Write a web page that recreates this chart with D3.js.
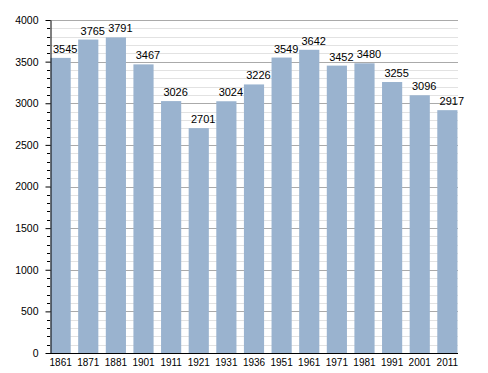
<!DOCTYPE html>
<html>
<head>
<meta charset="utf-8">
<script src="https://cdn.jsdelivr.net/npm/d3@7"></script>
<style>
  body { margin: 0; background: #fff; }
  text { font-family: "Liberation Sans", Arial, sans-serif; font-size: 11px; fill: #000; }
</style>
</head>
<body>
<svg id="chart" width="488" height="373"></svg>
<script>
var years = ["1861","1871","1881","1901","1911","1921","1931","1936","1951","1961","1971","1981","1991","2001","2011"];
var population = [3545,3765,3791,3467,3026,2701,3024,3226,3549,3642,3452,3480,3255,3096,2917];
var majorTicks = [0,500,1000,1500,2000,2500,3000,3500,4000];

var svg = d3.select("#chart");
var plotLeft = 50, plotRight = 458, plotTop = 20, plotBottom = 353;

var x = d3.scaleBand().domain(years).range([plotLeft, plotRight]).paddingInner(0.27).paddingOuter(0.02);
var y = d3.scaleLinear().domain([0, 4000]).range([plotBottom, plotTop]);

// minor grid every 100
var minor = d3.range(100, 4001, 100).filter(function(v){ return v % 500 !== 0; });
svg.selectAll("line.minor").data(minor).enter().append("line")
  .attr("class", "minor")
  .attr("x1", plotLeft).attr("x2", plotRight)
  .attr("y1", function(d){ return Math.round(y(d)) + 0.5; }).attr("y2", function(d){ return Math.round(y(d)) + 0.5; })
  .attr("stroke", "#e2e2e2");
svg.selectAll("line.major").data(majorTicks.slice(1)).enter().append("line")
  .attr("class", "major")
  .attr("x1", plotLeft).attr("x2", plotRight)
  .attr("y1", function(d){ return Math.round(y(d)) + 0.5; }).attr("y2", function(d){ return Math.round(y(d)) + 0.5; })
  .attr("stroke", "#aaaaaa");

// bars
svg.selectAll("rect.bar").data(population).enter().append("rect")
  .attr("class", "bar")
  .attr("x", function(d, i){ return x(years[i]); })
  .attr("width", x.bandwidth())
  .attr("y", function(d){ return y(d); })
  .attr("height", function(d){ return plotBottom - y(d); })
  .attr("fill", "#9ab3cf");

// value labels (sit a little right of the bar centre, like the original)
svg.selectAll("text.val").data(population).enter().append("text")
  .attr("class", "val")
  .attr("x", function(d, i){ return x(years[i]) + x.bandwidth() / 2 + 4.5; })
  .attr("y", function(d){ return y(d) - 5; })
  .attr("text-anchor", "middle")
  .text(function(d){ return d; });

// y axis with minor ticks
var yAxis = d3.axisLeft(y).tickValues(majorTicks).tickFormat(d3.format("d")).tickSize(5).tickSizeOuter(0).tickPadding(7);
var gy = svg.append("g").attr("transform", "translate(" + (plotLeft + 0.5) + ",0)").call(yAxis);
gy.select(".domain").attr("stroke", "#000");
gy.selectAll("text").style("font-size", "10.5px").style("font-family", "Liberation Sans, Arial, sans-serif");
svg.selectAll("line.mtick").data(minor).enter().append("line")
  .attr("class", "mtick")
  .attr("x1", plotLeft - 3).attr("x2", plotLeft)
  .attr("y1", function(d){ return Math.round(y(d)) + 0.5; }).attr("y2", function(d){ return Math.round(y(d)) + 0.5; })
  .attr("stroke", "#000");

// x axis
var xAxis = d3.axisBottom(x).tickSize(0).tickPadding(5);
var gx = svg.append("g").attr("transform", "translate(0," + (plotBottom + 0.5) + ")").call(xAxis);
gx.select(".domain").attr("d", "M" + (plotLeft - 4) + ",0H" + plotRight).attr("stroke", "#000");
gx.selectAll("text").style("font-size", "10px").style("font-family", "Liberation Sans, Arial, sans-serif");
</script>
</body>
</html>
